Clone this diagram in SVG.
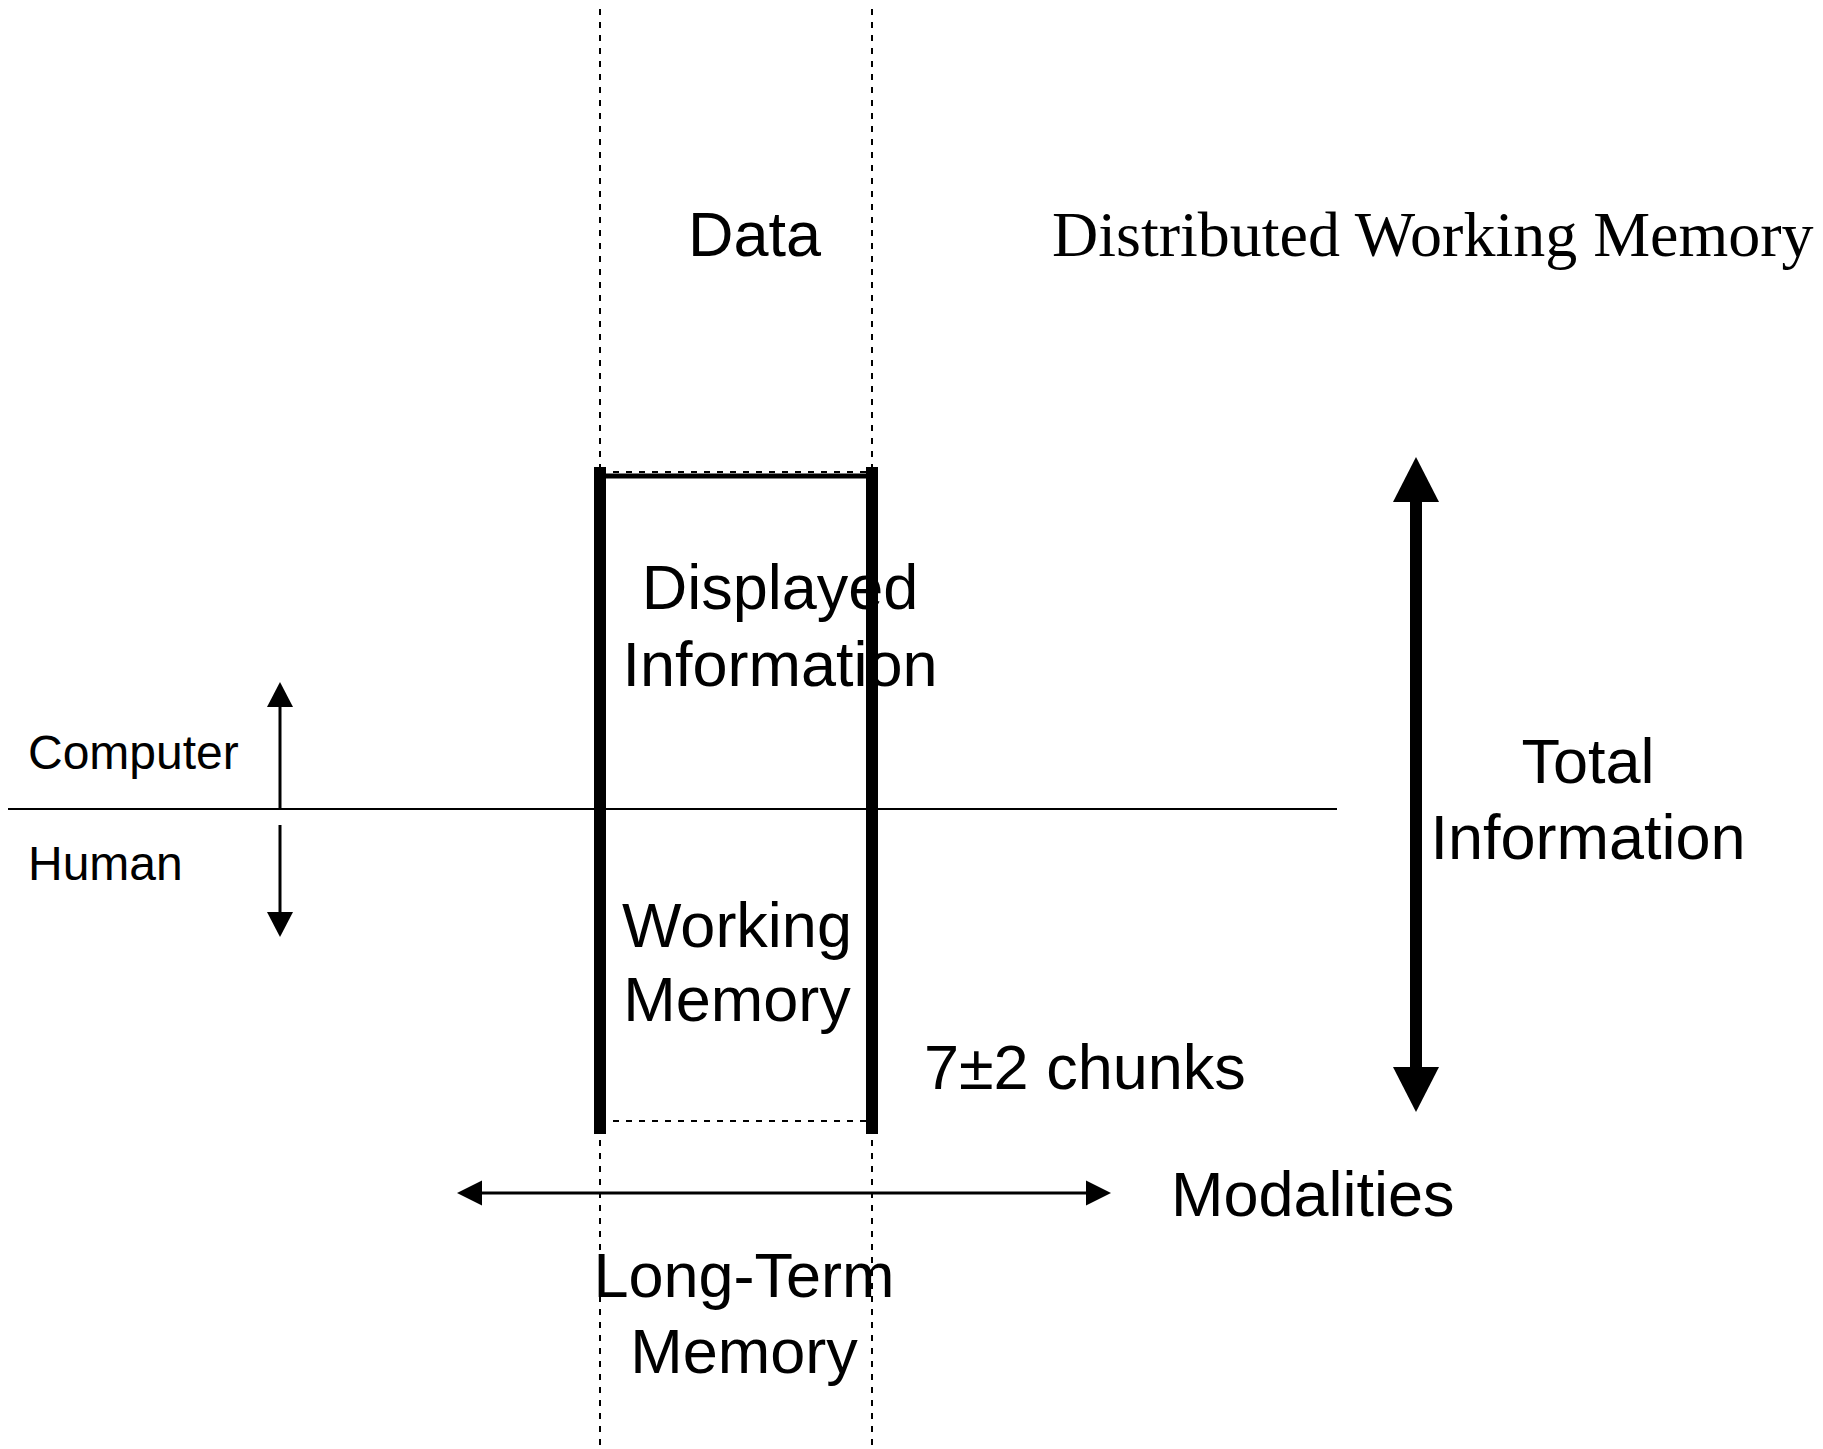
<svg xmlns="http://www.w3.org/2000/svg" width="1823" height="1449" viewBox="0 0 1823 1449">
<style>
.t{font-family:"Liberation Sans",Arial,sans-serif;font-size:63px;fill:#000}
.s{font-family:"Liberation Sans",Arial,sans-serif;font-size:48px;fill:#000}
.serif{font-family:"Liberation Serif","Times New Roman",serif;font-size:64px;fill:#000}
.dash{stroke:#000;stroke-width:2;stroke-dasharray:6 7;fill:none}
.thick{stroke:#000;stroke-width:12;fill:none}
.thin{stroke:#000;stroke-width:2;fill:none}
.mid{stroke:#000;stroke-width:3;fill:none}
</style>
<rect width="1823" height="1449" fill="#fff"/>
<g id="data"><text class="t" x="688" y="256">Data</text></g>
<g id="title"><text class="serif" x="1052" y="256">Distributed Working Memory</text></g>
<g id="displayed"><text class="t" x="780" y="609" text-anchor="middle">Displayed</text><text class="t" x="780" y="686" text-anchor="middle">Information</text></g>
<g id="working"><text class="t" x="737" y="947" text-anchor="middle">Working</text><text class="t" x="737" y="1021" text-anchor="middle">Memory</text></g>
<g id="longterm"><text class="t" x="744" y="1297" text-anchor="middle">Long-Term</text><text class="t" x="744" y="1373" text-anchor="middle">Memory</text></g>
<g id="chunks"><text class="t" x="924" y="1089">7±2 chunks</text></g>
<g id="modalities"><text class="t" x="1171" y="1216">Modalities</text></g>
<g id="total"><text class="t" x="1588" y="783" text-anchor="middle">Total</text><text class="t" x="1588" y="859" text-anchor="middle">Information</text></g>
<g id="computer"><text class="s" x="28" y="769">Computer</text></g>
<g id="human"><text class="s" x="28" y="880">Human</text></g>
<g id="connectors">
<line class="dash" x1="600" y1="9" x2="600" y2="1449"/>
<line class="dash" x1="872" y1="9" x2="872" y2="1449"/>
<line class="dash" x1="600" y1="472" x2="872" y2="472"/>
<line x1="600" y1="476" x2="872" y2="476" stroke="#000" stroke-width="5"/>
<line class="dash" x1="600" y1="1121" x2="872" y2="1121"/>
<line class="thick" x1="600" y1="467" x2="600" y2="1134"/>
<line class="thick" x1="872" y1="467" x2="872" y2="1134"/>
<line class="thin" x1="8" y1="809" x2="1337" y2="809"/>
<line class="mid" x1="280" y1="809" x2="280" y2="705"/>
<polygon points="280,682 267,707 293,707" fill="#000"/>
<line class="mid" x1="280" y1="825" x2="280" y2="915"/>
<polygon points="280,937 267,912 293,912" fill="#000"/>
<line class="mid" x1="480" y1="1193" x2="1088" y2="1193"/>
<polygon points="457,1193 482,1180.5 482,1205.5" fill="#000"/>
<polygon points="1111,1193 1086,1180.5 1086,1205.5" fill="#000"/>
<line class="thick" x1="1416" y1="500" x2="1416" y2="1069"/>
<polygon points="1416,457 1393,502 1439,502" fill="#000"/>
<polygon points="1416,1112 1393,1067 1439,1067" fill="#000"/>
</g>
</svg>
